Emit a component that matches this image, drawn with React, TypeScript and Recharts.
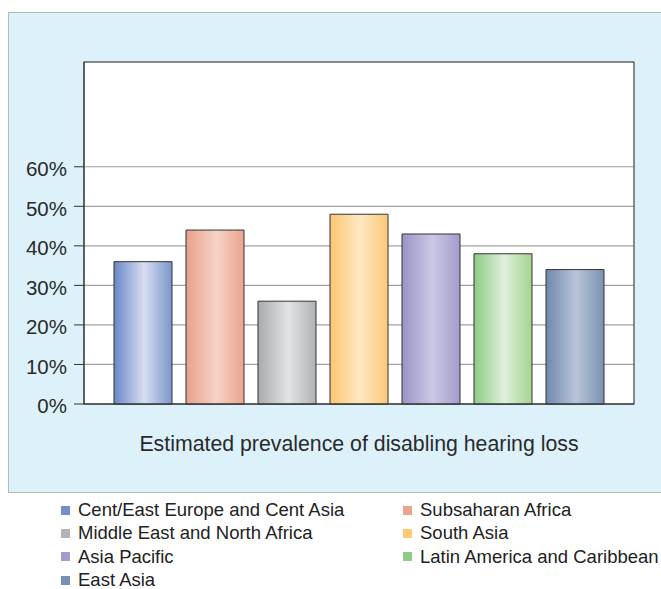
import { Bar, BarChart, CartesianGrid, Legend, ReferenceArea, XAxis, YAxis } from "recharts";

const category = "Estimated prevalence of disabling hearing loss";

const regions = [
  "Cent/East Europe and Cent Asia",
  "Subsaharan Africa",
  "Middle East and North Africa",
  "South Asia",
  "Asia Pacific",
  "Latin America and Caribbean",
  "East Asia",
];

const prevalence = [36, 44, 26, 48, 43, 38, 34];

const yTicks = [0, 10, 20, 30, 40, 50, 60];

// left edge, highlight, right edge of each bar's shading
const shades = [
  ["#6a87c8", "#d8def2", "#7b95cc"],
  ["#e8a08a", "#f6d4c6", "#e9a48e"],
  ["#a9abad", "#e2e3e4", "#b0b2b4"],
  ["#fdc670", "#fde8c2", "#fcc878"],
  ["#9a93c6", "#cbc8e5", "#a39dcb"],
  ["#8ccb86", "#e0f0dc", "#a4d48e"],
  ["#6f88ad", "#b8c5d8", "#7b92b3"],
];

const legendColors = ["#6f8fcf", "#eca58d", "#b2b4b6", "#fdc870", "#a49bd0", "#8ecb89", "#7590b5"];

const data = [
  regions.reduce<Record<string, string | number>>(
    (row, r, i) => {
      row[r] = prevalence[i];
      return row;
    },
    { name: category }
  ),
];

const font = '"Liberation Sans", Arial, sans-serif';

function LegendBlock() {
  return (
    <div
      style={{
        display: "grid",
        gridTemplateColumns: "342px 258px",
        paddingLeft: 61,
        fontFamily: font,
        fontSize: 18.5,
        color: "#222",
      }}
    >
      {regions.map((r, i) => (
        <div key={r} style={{ display: "flex", alignItems: "center", height: 23.3, whiteSpace: "nowrap" }}>
          <span style={{ width: 9, height: 9, background: legendColors[i], marginRight: 8, flexShrink: 0 }} />
          {r}
        </div>
      ))}
    </div>
  );
}

export default function App() {
  return (
    <div style={{ position: "absolute", left: 0, top: 0, width: 661, height: 589, background: "#fff" }}>
      <div
        style={{
          position: "absolute",
          left: 8,
          top: 12,
          width: 652,
          height: 479,
          background: "#ddf1fa",
          border: "1px solid #b8b8b8",
          borderRight: "none",
        }}
      />
      <div style={{ position: "absolute", left: 0, top: 0 }}>
        <BarChart
          width={661}
          height={589}
          data={data}
          margin={{ top: 62, right: 27, left: 0, bottom: 125 }}
          barSize={58}
          barGap={14}
        >
          <defs>
            {shades.map((s, i) => (
              <linearGradient key={i} id={`shade${i}`} x1="0" y1="0" x2="1" y2="0">
                <stop offset="0%" stopColor={s[0]} />
                <stop offset="52%" stopColor={s[1]} />
                <stop offset="100%" stopColor={s[2]} />
              </linearGradient>
            ))}
          </defs>
          <CartesianGrid vertical={false} stroke="#a0a0a0" strokeWidth={1.2} fill="#fff" fillOpacity={1} />
          <XAxis
            dataKey="name"
            height={60}
            tickSize={0}
            tickMargin={32}
            axisLine={{ stroke: "#333" }}
            tick={{ fill: "#2a2a2a", fontSize: 21.3, fontFamily: font }}
          />
          <YAxis
            width={84}
            domain={[0, 86.5]}
            ticks={yTicks}
            tickFormatter={(v) => `${v}%`}
            tickSize={10}
            tickMargin={7}
            axisLine={{ stroke: "#333" }}
            tickLine={{ stroke: "#333" }}
            tick={{ fill: "#2a2a2a", fontSize: 20.5, fontFamily: font, dy: 2 }}
          />
          <ReferenceArea y1={0} y2={86.5} fill="none" stroke="#444" strokeWidth={1.2} />
          {regions.map((r, i) => (
            <Bar
              key={r}
              dataKey={r}
              fill={`url(#shade${i})`}
              stroke="#333"
              strokeWidth={1}
              isAnimationActive={false}
            />
          ))}
          <Legend
            layout="horizontal"
            verticalAlign="middle"
            align="center"
            wrapperStyle={{ top: 498.5, left: 0, width: 661, height: 90 }}
            content={() => <LegendBlock />}
          />
        </BarChart>
      </div>
    </div>
  );
}
